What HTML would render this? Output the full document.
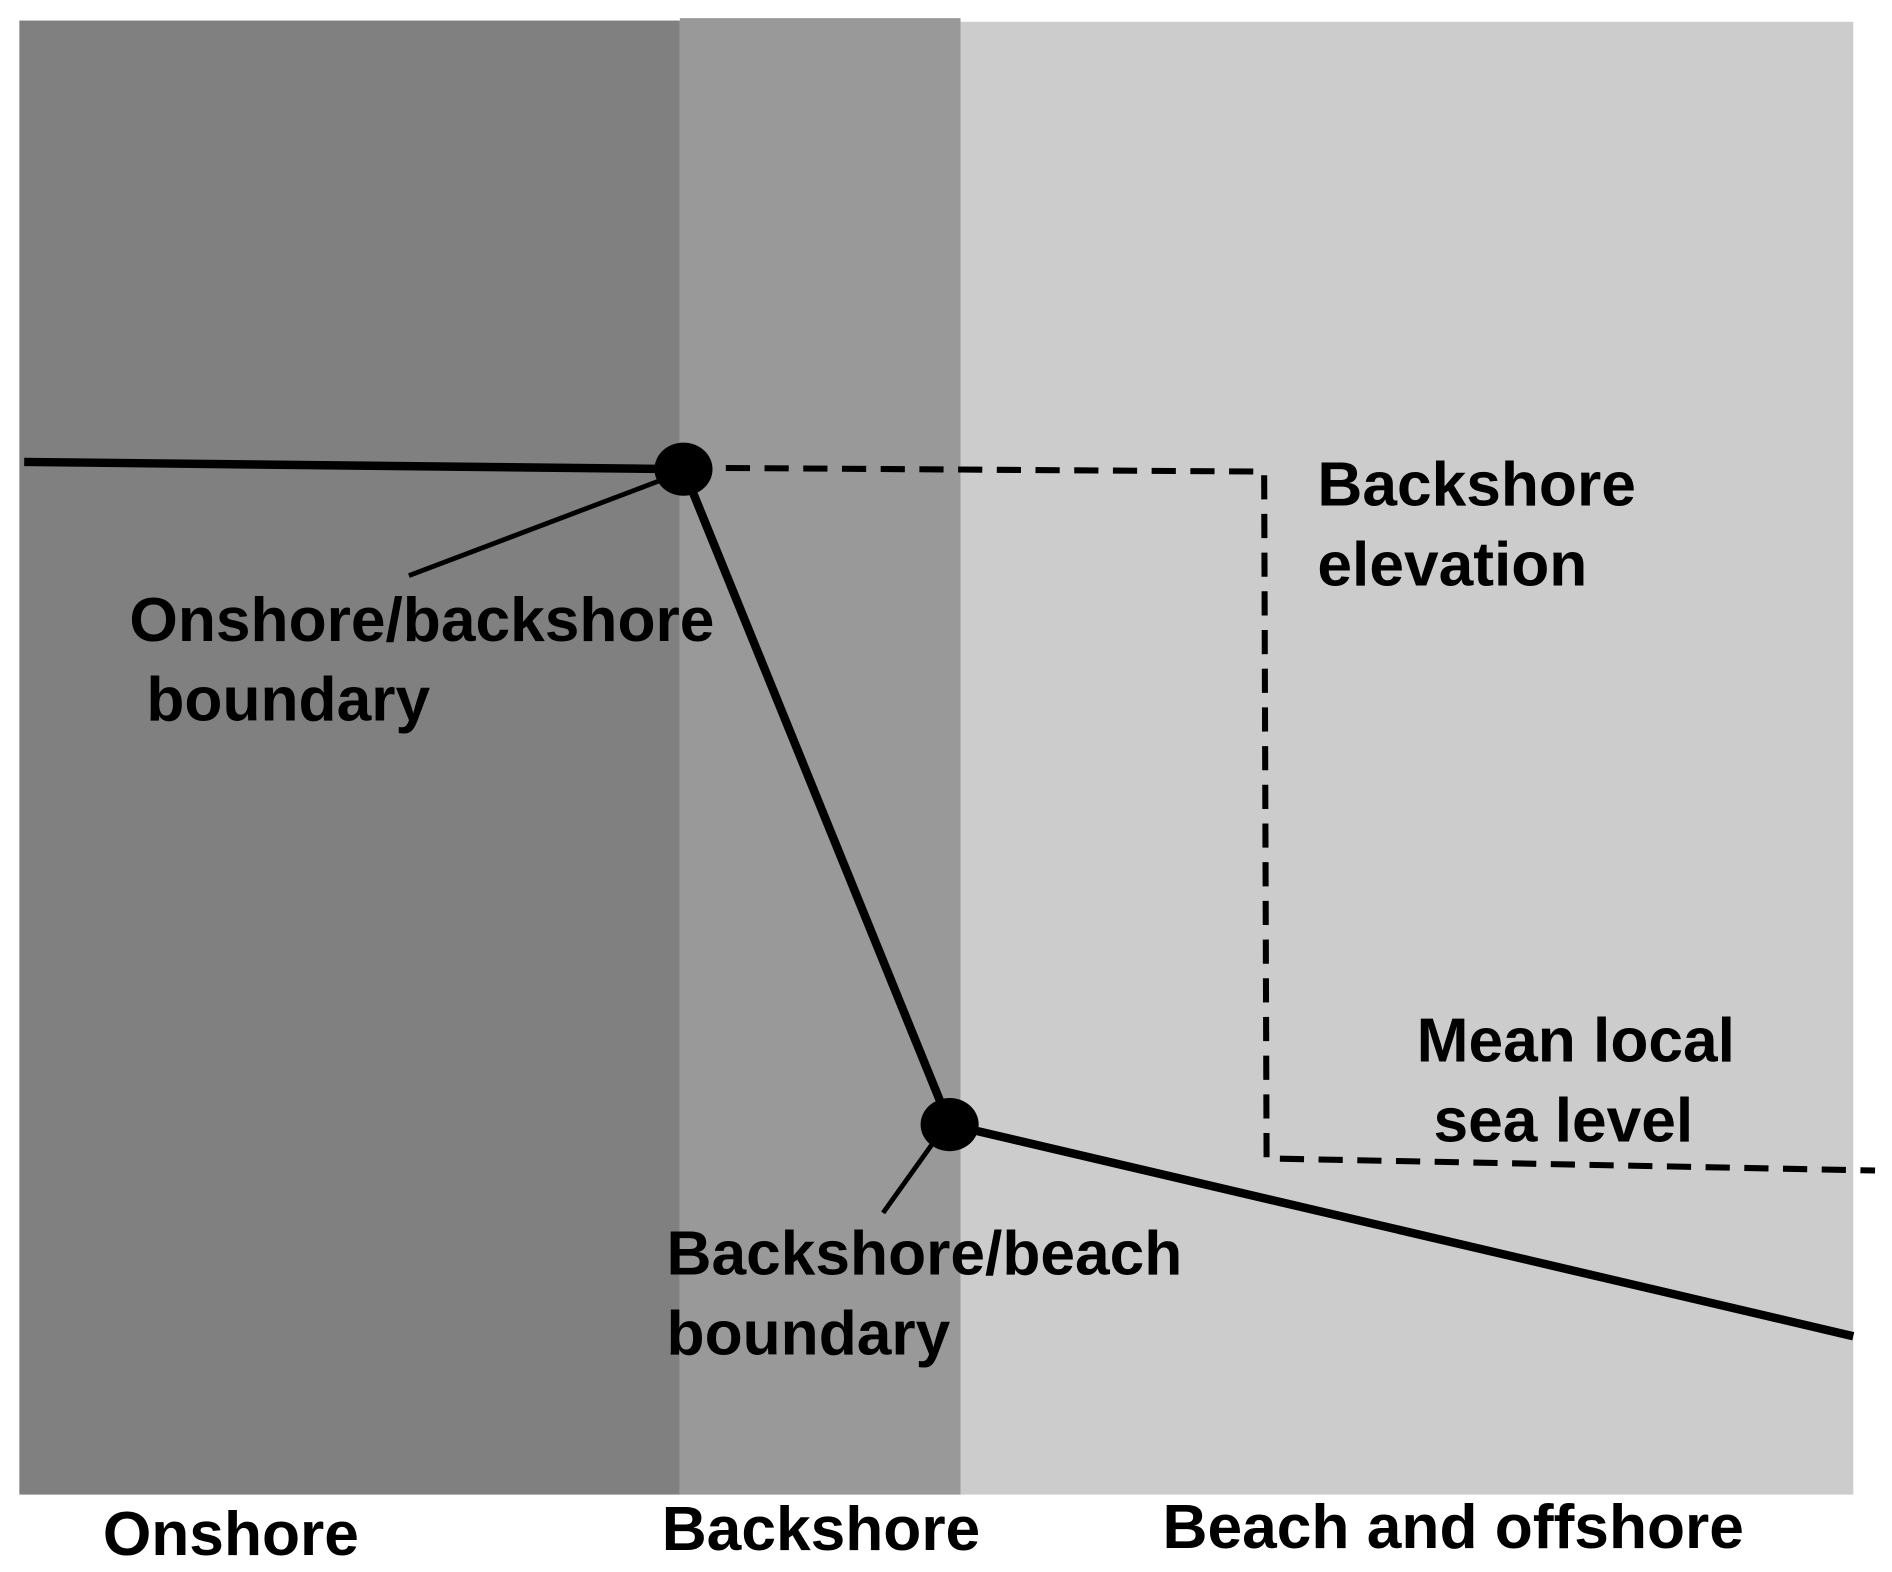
<!DOCTYPE html>
<html><head><meta charset="utf-8"><style>html,body{margin:0;padding:0;background:#fff}svg{display:block}</style></head>
<body>
<svg width="1892" height="1572" viewBox="0 0 1564 1300" preserveAspectRatio="none" xmlns="http://www.w3.org/2000/svg">
<rect x="0" y="0" width="1564" height="1300" fill="#fff"/>
<rect x="16" y="17" width="546" height="1219" fill="#808080"/>
<rect x="562" y="15" width="232" height="1221" fill="#999999"/>
<rect x="794" y="18" width="738" height="1218" fill="#cccccc"/>
<polyline points="600,387 1045,390 1047,958 1550,968" fill="none" stroke="#000" stroke-width="5" stroke-dasharray="20,12"/>
<polyline points="20,382 565,388 785,930 1532,1105" fill="none" stroke="#000" stroke-width="7" stroke-linejoin="round"/>
<line x1="560" y1="392" x2="338" y2="476" stroke="#000" stroke-width="4"/>
<line x1="775" y1="940" x2="730" y2="1003" stroke="#000" stroke-width="4"/>
<ellipse cx="565" cy="388" rx="24" ry="22" fill="#000"/>
<ellipse cx="785" cy="930" rx="24" ry="22" fill="#000"/>
<g font-family="Liberation Sans, Arial, sans-serif" font-weight="bold" font-size="51.5" fill="#000">
<text x="1089" y="418">Backshore</text>
<text x="1089" y="484">elevation</text>
<text x="107" y="530">Onshore/backshore</text>
<text x="121" y="596">boundary</text>
<text x="1171" y="878">Mean local</text>
<text x="1185" y="944">sea level</text>
<text x="551" y="1054">Backshore/beach</text>
<text x="551" y="1120">boundary</text>
<text x="85" y="1286">Onshore</text>
<text x="547" y="1282">Backshore</text>
<text x="961" y="1280">Beach and offshore</text>
</g>
</svg>
</body></html>
